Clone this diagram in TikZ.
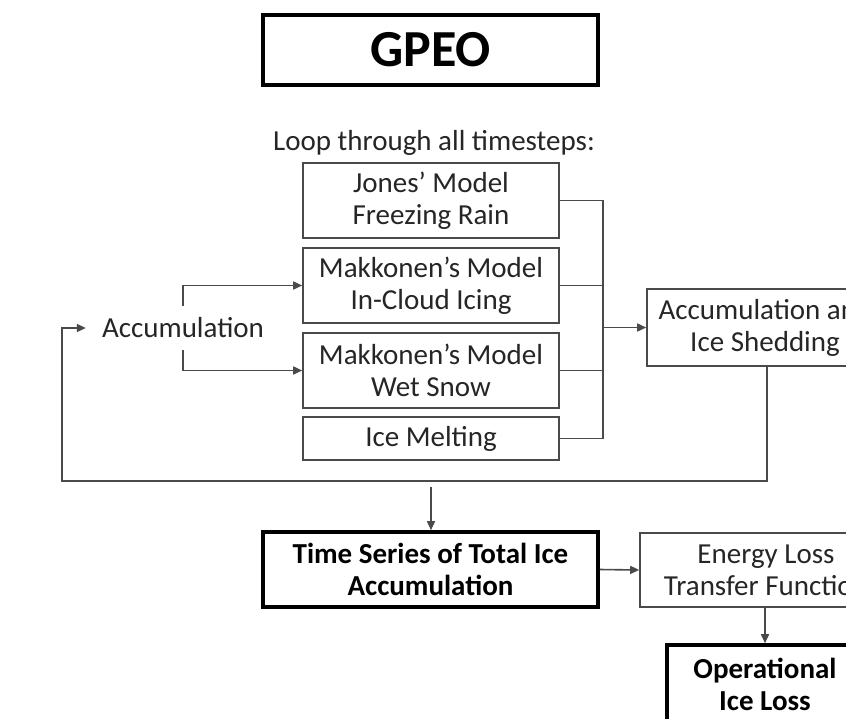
\documentclass[tikz,border=0pt]{standalone}
\usepackage{fontspec}
\setmainfont{Carlito}
\usetikzlibrary{arrows.meta}
\definecolor{ln}{HTML}{4A4A4A}
\definecolor{tx}{HTML}{262626}
\begin{document}
\begin{tikzpicture}[x=1pt,y=-1pt,
  thinbox/.style={draw=ln,line width=1.6pt,fill=white,text=tx,align=center,inner sep=0pt,
    font=\fontsize{29}{32}\selectfont},
  thickbox/.style={draw=black,line width=3.6pt,fill=white,text=black,align=center,inner sep=0pt,
    font=\fontsize{29}{32}\selectfont\bfseries},
  conn/.style={draw=ln,line width=1.6pt},
  arr/.style={conn,-{Triangle[length=9pt,width=8pt]}},
  plain/.style={text=tx,inner sep=0pt,font=\fontsize{29}{32}\selectfont}]
\useasboundingbox (0,0) rectangle (846,718);
\fill[white] (0,0) rectangle (846,718);
% title
\node[thickbox,minimum width=335pt,minimum height=70pt,font=\fontsize{52}{60}\selectfont\bfseries] (gpeo) at (430.5,50) {GPEO};
\node[plain] (loop) at (434,143) {Loop through all timesteps:};
% model boxes
\node[thinbox,minimum width=256pt,minimum height=75pt] (jones) at (431,200.5) {Jones’ Model\\Freezing Rain};
\node[thinbox,minimum width=256pt,minimum height=75pt] (mak1) at (431,285.5) {Makkonen’s Model\\In-Cloud Icing};
\node[thinbox,minimum width=256pt,minimum height=75pt] (mak2) at (431,370.5) {Makkonen’s Model\\Wet Snow};
\node[thinbox,minimum width=256pt,minimum height=43pt] (melt) at (431,438.5) {Ice Melting};
\node[plain,minimum width=160pt,minimum height=44pt] (acc) at (183,328) {Accumulation};
\node[thinbox,minimum width=236pt,minimum height=77pt] (shed) at (765,327.5) {Accumulation and\\Ice Shedding};
\node[thickbox,minimum width=335pt,minimum height=75pt] (ts) at (430.5,569.5) {Time Series of Total Ice\\Accumulation};
\node[thinbox,minimum width=252pt,minimum height=74pt] (energy) at (766,570) {Energy Loss\\Transfer Function};
\node[thickbox,minimum width=196pt,minimum height=78pt] (oper) at (765,684) {Operational\\Ice Loss};
% bus
\coordinate (bt) at (603,200.5);
\coordinate (bb) at (603,438.5);
\draw[conn] (jones.east) -- (bt) -- (bb) -- (melt.east);
\draw[conn] (mak1.east) -- (mak1.east -| bt);
\draw[conn] (mak2.east) -- (mak2.east -| bt);
\draw[arr] (bt |- shed.west) -- (shed.west);
% feedback loop
\coordinate (fbr) at (767,481);
\coordinate (fbl) at (62,481);
\draw[arr] (shed.south -| fbr) -- (fbr) -- (fbl) -- (fbl |- acc.west) -- ([xshift=-16pt]acc.west);
% accumulation branches
\draw[arr] (acc.north) |- (mak1.west);
\draw[arr] (acc.south) |- (mak2.west);
% down arrow
\coordinate (dn) at (431,487);
\draw[arr] (dn) -- (ts.north -| dn);
\draw[arr] (ts.east) -- (energy.west);
\draw[arr] (energy.south -| oper.north) -- (oper.north);
\end{tikzpicture}
\end{document}
